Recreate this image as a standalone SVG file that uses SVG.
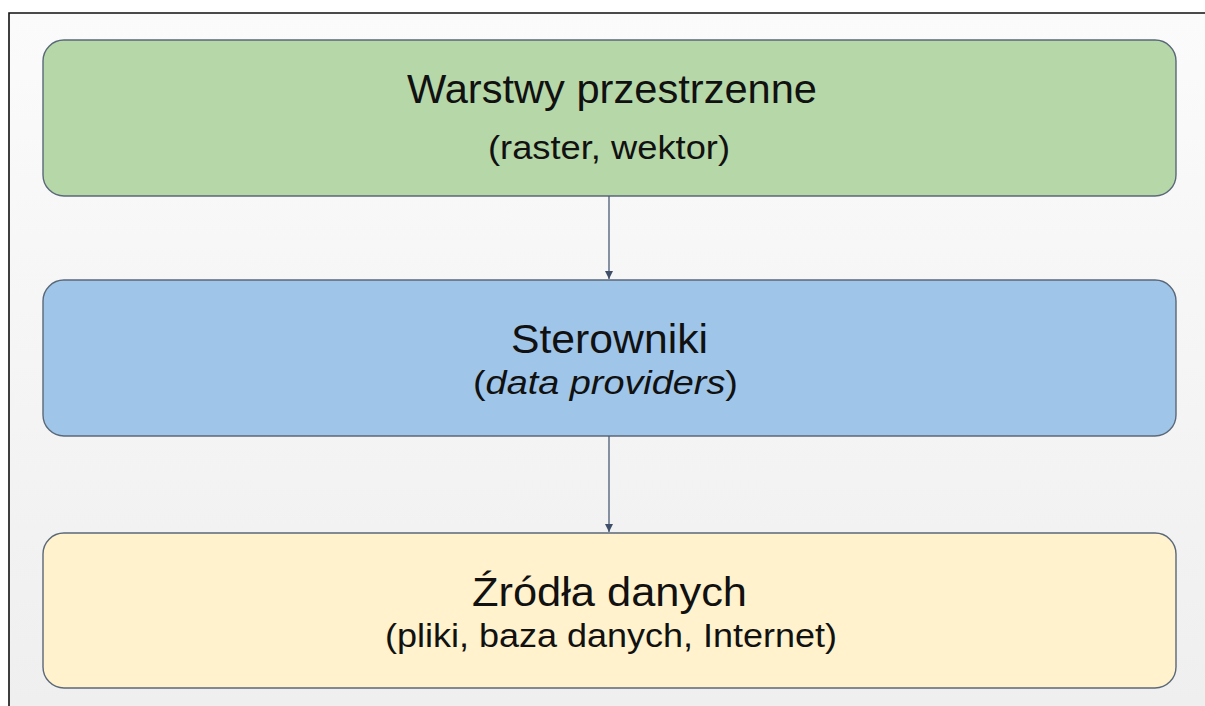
<svg xmlns="http://www.w3.org/2000/svg" width="1205" height="706" viewBox="0 0 1205 706">
  <defs>
    <linearGradient id="bg" x1="0" y1="0" x2="0" y2="1">
      <stop offset="0" stop-color="#fbfbfb"/>
      <stop offset="1" stop-color="#efeff0"/>
    </linearGradient>
    <marker id="arr" viewBox="0 0 10 10" refX="10" refY="5" markerWidth="8" markerHeight="8" markerUnits="userSpaceOnUse" orient="auto">
      <path d="M0,0 L10,5 L0,10 z" fill="#3f4f6a"/>
    </marker>
  </defs>
  <style>
    .box { stroke: #5a6878; stroke-width: 1.4; }
    .t1 { font-family: "Liberation Sans", Arial, sans-serif; font-size: 40px; fill: #111; }
    .t2 { font-family: "Liberation Sans", Arial, sans-serif; font-size: 33px; fill: #111; }
    .conn { stroke: #4a5a74; stroke-width: 1.3; fill: none; }
  </style>
  <rect x="0" y="0" width="1205" height="706" fill="#ffffff"/>
  <rect x="9" y="13" width="1196" height="693" fill="url(#bg)"/>
  <path d="M9,706 L9,13 L1205,13" stroke="#111" stroke-width="1.6" fill="none"/>

  <g id="node-warstwy">
    <rect class="box" x="43" y="40" width="1133" height="156" rx="21" fill="#b6d7a8"/>
    <text class="t1" x="612" y="103" text-anchor="middle" textLength="410" lengthAdjust="spacingAndGlyphs">Warstwy przestrzenne</text>
    <text class="t2" x="609" y="159" text-anchor="middle" textLength="242" lengthAdjust="spacingAndGlyphs">(raster, wektor)</text>
  </g>

  <g id="node-sterowniki">
    <rect class="box" x="43" y="280" width="1133" height="156" rx="21" fill="#9fc5e8"/>
    <text class="t1" x="609.5" y="353" text-anchor="middle" textLength="197" lengthAdjust="spacingAndGlyphs">Sterowniki</text>
    <text class="t2" x="605.5" y="394" text-anchor="middle" textLength="265" lengthAdjust="spacingAndGlyphs">(<tspan font-style="italic">data providers</tspan>)</text>
  </g>

  <g id="node-zrodla">
    <rect class="box" x="43" y="533" width="1133" height="155" rx="21" fill="#fff2cc"/>
    <text class="t1" x="609.5" y="606" text-anchor="middle" textLength="275" lengthAdjust="spacingAndGlyphs">Źródła danych</text>
    <text class="t2" x="611" y="647" text-anchor="middle" textLength="452" lengthAdjust="spacingAndGlyphs">(pliki, baza danych, Internet)</text>
  </g>

  <g id="connectors">
    <line class="conn" x1="609" y1="196" x2="609" y2="279" marker-end="url(#arr)"/>
    <line class="conn" x1="609" y1="436" x2="609" y2="532" marker-end="url(#arr)"/>
  </g>
</svg>
